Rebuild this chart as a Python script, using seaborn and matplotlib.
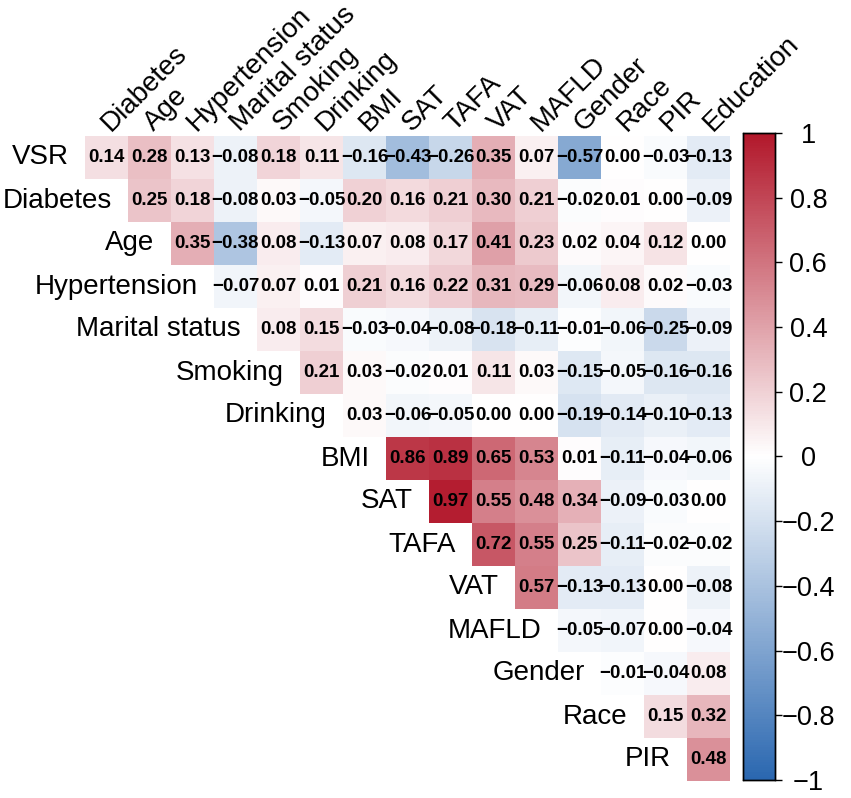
import numpy as np
import pandas as pd
import seaborn as sns
import matplotlib.pyplot as plt
from matplotlib.colors import LinearSegmentedColormap

sns.set_style("white")
plt.rcParams['font.family'] = ['Liberation Sans', 'DejaVu Sans']
plt.rcParams['text.color'] = 'black'
plt.rcParams['ytick.color'] = 'black'
plt.rcParams['xtick.color'] = 'black'

# row / column variables of the upper triangle
rows = ["VSR", "Diabetes", "Age", "Hypertension", "Marital status", "Smoking",
        "Drinking", "BMI", "SAT", "TAFA", "VAT", "MAFLD", "Gender", "Race", "PIR"]
cols = ["Diabetes", "Age", "Hypertension", "Marital status", "Smoking", "Drinking",
        "BMI", "SAT", "TAFA", "VAT", "MAFLD", "Gender", "Race", "PIR", "Education"]

# correlations, each row starts at the diagonal
r_vsr = [0.14, 0.28, 0.13, -0.08, 0.18, 0.11, -0.16, -0.43, -0.26, 0.35, 0.07, -0.57, 0.00, -0.03, -0.13]
r_diabetes = [0.25, 0.18, -0.08, 0.03, -0.05, 0.20, 0.16, 0.21, 0.30, 0.21, -0.02, 0.01, 0.00, -0.09]
r_age = [0.35, -0.38, 0.08, -0.13, 0.07, 0.08, 0.17, 0.41, 0.23, 0.02, 0.04, 0.12, 0.00]
r_hyper = [-0.07, 0.07, 0.01, 0.21, 0.16, 0.22, 0.31, 0.29, -0.06, 0.08, 0.02, -0.03]
r_marital = [0.08, 0.15, -0.03, -0.04, -0.08, -0.18, -0.11, -0.01, -0.06, -0.25, -0.09]
r_smoking = [0.21, 0.03, -0.02, 0.01, 0.11, 0.03, -0.15, -0.05, -0.16, -0.16]
r_drinking = [0.03, -0.06, -0.05, 0.00, 0.00, -0.19, -0.14, -0.10, -0.13]
r_bmi = [0.86, 0.89, 0.65, 0.53, 0.01, -0.11, -0.04, -0.06]
r_sat = [0.97, 0.55, 0.48, 0.34, -0.09, -0.03, 0.00]
r_tafa = [0.72, 0.55, 0.25, -0.11, -0.02, -0.02]
r_vat = [0.57, -0.13, -0.13, 0.00, -0.08]
r_mafld = [-0.05, -0.07, 0.00, -0.04]
r_gender = [-0.01, -0.04, 0.08]
r_race = [0.15, 0.32]
r_pir = [0.48]

tri = [r_vsr, r_diabetes, r_age, r_hyper, r_marital, r_smoking, r_drinking, r_bmi,
       r_sat, r_tafa, r_vat, r_mafld, r_gender, r_race, r_pir]

n = len(rows)
mat = np.full((n, n), np.nan)
for i, vals in enumerate(tri):
    mat[i, i:] = vals
df = pd.DataFrame(mat, index=rows, columns=cols)

labels = np.where(np.isnan(mat), "",
                  np.vectorize(lambda v: f"{v:.2f}".replace("-", "\u2212"))(np.nan_to_num(mat)))

cmap = LinearSegmentedColormap.from_list("rb", ["#2A67B0", "#FFFFFF", "#B2182B"])

W, H = 851, 798
fig = plt.figure(figsize=(W / 100, H / 100), dpi=100)
ax = fig.add_axes([85 / W, 1 - 781 / H, 645 / W, 645 / H])
cax = fig.add_axes([743 / W, 1 - 780 / H, 32 / W, 647 / H])

sns.heatmap(df, mask=np.isnan(mat), cmap=cmap, vmin=-1, vmax=1, annot=labels, fmt="",
            annot_kws={"size": 13.5, "weight": "bold", "color": "black"},
            ax=ax, cbar_ax=cax, xticklabels=False, yticklabels=False)
ax.set_xlabel("")
ax.set_ylabel("")

# row labels sit left of the first cell in each row
for i, name in enumerate(rows):
    ax.text(i - 0.38, i + 0.5, name, ha="right", va="center", fontsize=20)

# column labels rotated on top
for j, name in enumerate(cols):
    ax.text(j + 0.6, -0.1, name, rotation=45, rotation_mode="anchor",
            ha="left", va="baseline", fontsize=20, clip_on=False)

# colorbar
ticks = [-1, -0.8, -0.6, -0.4, -0.2, 0, 0.2, 0.4, 0.6, 0.8, 1]
tick_labels = ["\u22121", "\u22120.8", "\u22120.6", "\u22120.4", "\u22120.2", "0",
               "0.2", "0.4", "0.6", "0.8", "1"]
cax.set_yticks(ticks)
cax.set_yticklabels(tick_labels)
cax.tick_params(axis="y", right=True, length=5, width=1, labelsize=19.5, pad=19)
for sp in cax.spines.values():
    sp.set_visible(True)
    sp.set_color("black")
    sp.set_linewidth(1)
for lab in cax.get_yticklabels():
    lab.set_horizontalalignment("center")

fig.savefig("out.png", dpi=100)
